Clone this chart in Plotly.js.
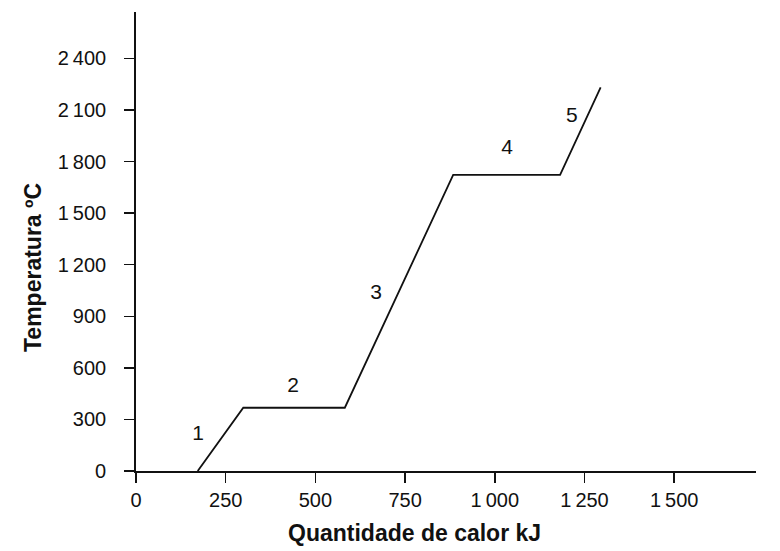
<!DOCTYPE html>
<html>
<head>
<meta charset="utf-8">
<script src="https://cdn.plot.ly/plotly-3.0.1.min.js"></script>
<style>
  html, body { margin: 0; padding: 0; background: #fff; }
  #chart { width: 780px; height: 551px; }
</style>
</head>
<body>
<div id="chart"></div>
<script>
// heating curve: heat (kJ) vs temperature (°C)
const heatKJ = [172, 299, 582, 884, 1182, 1295];
const tempC = [0, 368, 368, 1722, 1722, 2232];

// stage labels 1..5 and where they sit
const stageText = ['1', '2', '3', '4', '5'];
const stageX = [173, 438, 669, 1034, 1215];
const stageY = [209, 489, 1030, 1873, 2059];

const xTicks = [0, 250, 500, 750, 1000, 1250, 1500];
const yTicks = [0, 300, 600, 900, 1200, 1500, 1800, 2100, 2400];

const fmt = v => v >= 1000 ? String(v).replace(/(\d)(\d{3})$/, '$1\u2009$2') : String(v);

var curve = {
  x: heatKJ,
  y: tempC,
  type: 'scatter',
  mode: 'lines',
  line: { color: '#111', width: 1.8 },
  hoverinfo: 'skip',
  showlegend: false,
};

var stages = {
  x: stageX,
  y: stageY,
  text: stageText,
  type: 'scatter',
  mode: 'text',
  textfont: { family: 'Liberation Sans, Arial, sans-serif', size: 21, color: '#111' },
  hoverinfo: 'skip',
  showlegend: false,
};

var axisCommon = {
  showgrid: false,
  zeroline: false,
  showline: true,
  linecolor: '#111',
  linewidth: 1.8,
  ticks: 'outside',
  ticklen: 10,
  tickwidth: 1.5,
  tickcolor: '#111',
  tickfont: { family: 'Liberation Sans, Arial, sans-serif', size: 20, color: '#111' },
};

var layout = {
  width: 780,
  height: 551,
  margin: { l: 136, r: 24, t: 12, b: 80 },
  paper_bgcolor: '#fff',
  plot_bgcolor: '#fff',
  xaxis: Object.assign({}, axisCommon, {
    range: [0, 1728],
    tickvals: xTicks,
    ticktext: xTicks.map(fmt),
    ticklabelstandoff: 0,
  }),
  yaxis: Object.assign({}, axisCommon, {
    range: [0, 2670],
    tickvals: yTicks,
    ticktext: yTicks.map(fmt),
    ticklabelstandoff: 14,
  }),
  annotations: [
    {
      text: '<b>Quantidade de calor kJ</b>',
      xref: 'paper', yref: 'paper',
      x: (414 - 136) / 620, y: -0.135,
      xanchor: 'center', yanchor: 'middle',
      showarrow: false,
      font: { family: 'Liberation Sans, Arial, sans-serif', size: 23, color: '#111' },
    },
    {
      text: '<b>Temperatura ºC</b>',
      xref: 'paper', yref: 'paper',
      x: (33 - 136) / 620, y: (471 - 268) / 459,
      xanchor: 'center', yanchor: 'middle',
      textangle: -90,
      showarrow: false,
      font: { family: 'Liberation Sans, Arial, sans-serif', size: 23, color: '#111' },
    },
  ],
};

Plotly.newPlot('chart', [curve, stages], layout, { staticPlot: true, displayModeBar: false });
</script>
</body>
</html>
